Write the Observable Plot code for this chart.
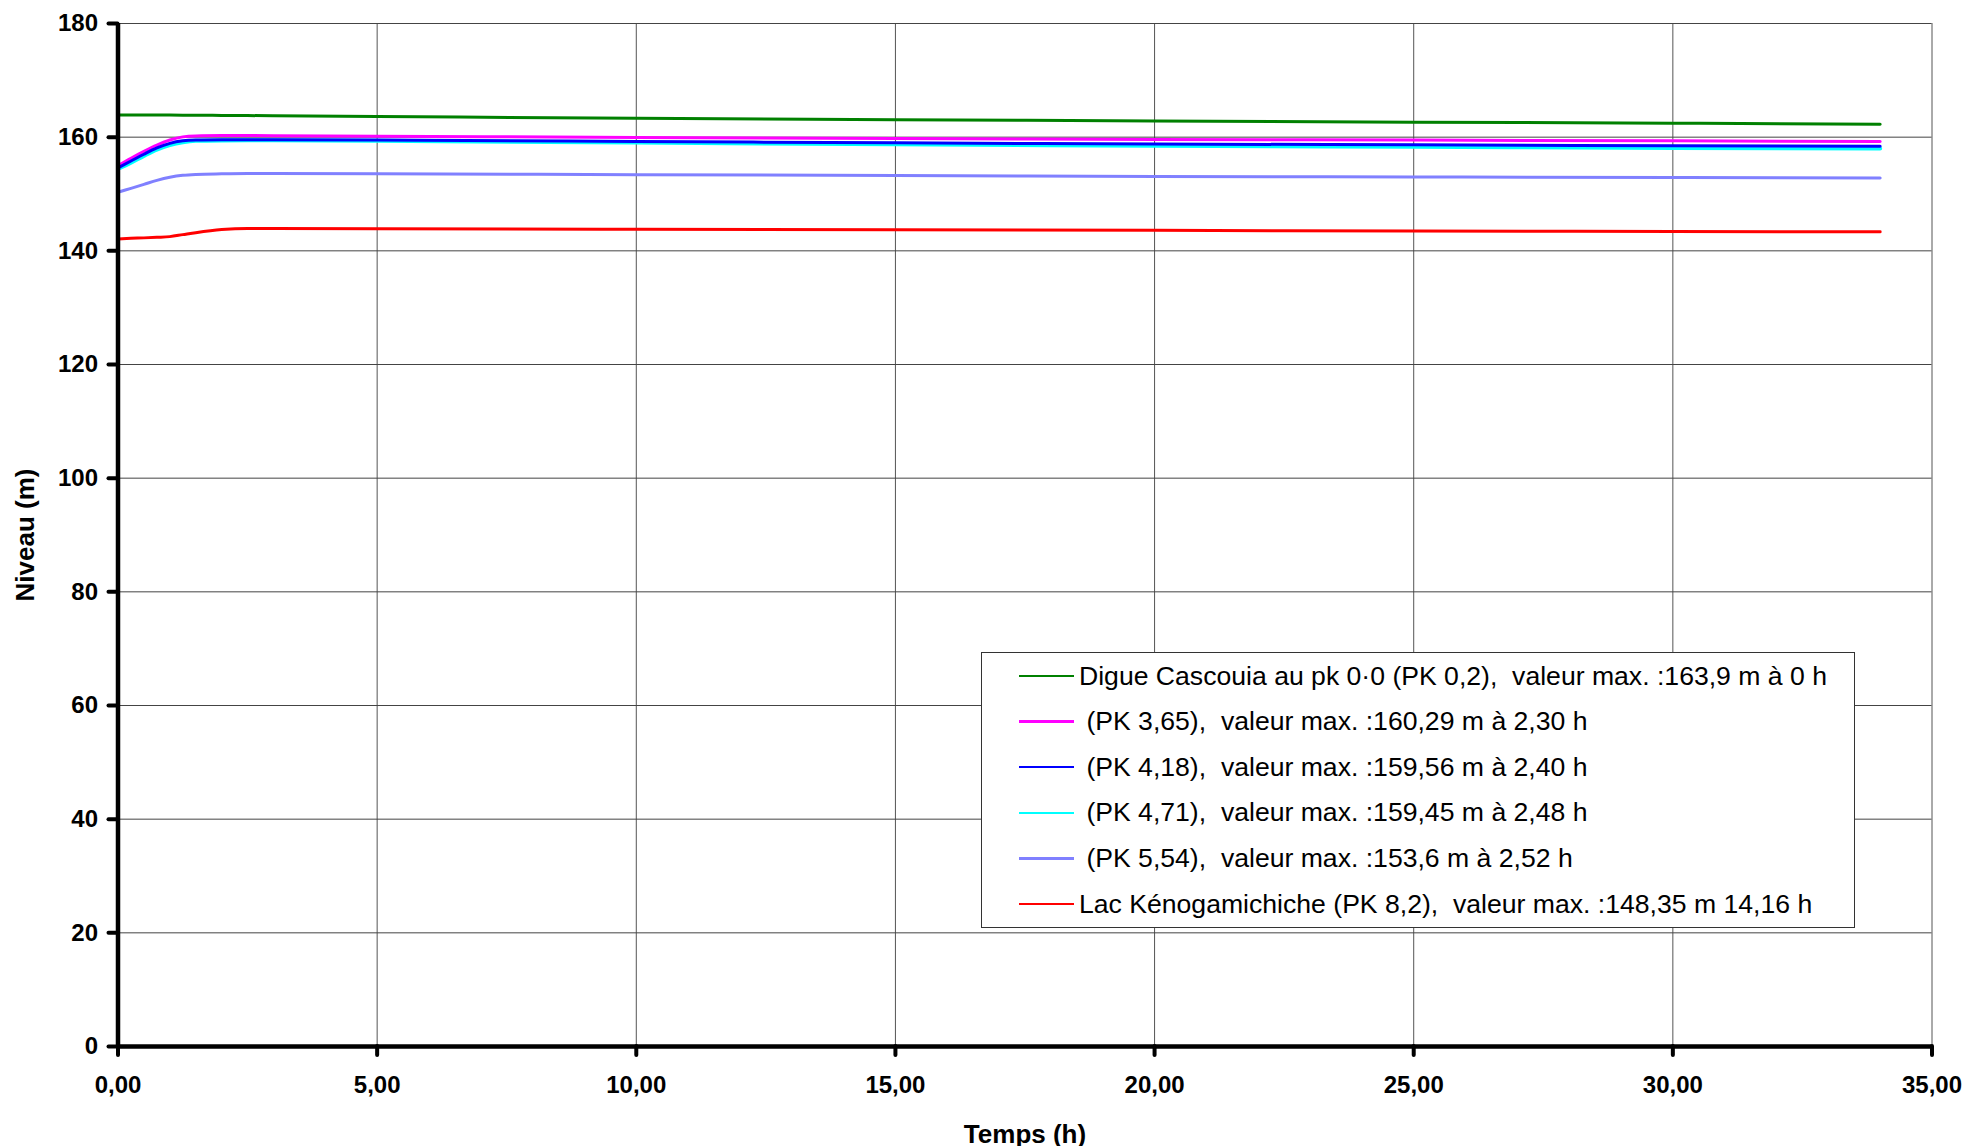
<!DOCTYPE html>
<html>
<head>
<meta charset="utf-8">
<script src="https://cdn.jsdelivr.net/npm/d3@7"></script>
<script src="https://cdn.jsdelivr.net/npm/@observablehq/plot@0.6"></script>
<style>
  html, body { margin: 0; padding: 0; background: #fff; overflow: hidden; }
  #wrap { position: relative; width: 1969px; height: 1146px; font-family: "Liberation Sans", Arial, sans-serif; }
  #legend { position: absolute; left: 981px; top: 652px; width: 872px; height: 274px; border: 1.5px solid #333; background: #fff; }
  .row { position: absolute; left: 0; height: 46px; display: flex; align-items: center; white-space: pre; font-size: 26.6px; color: #000; }
  .sw { width: 55px; height: 2.5px; margin-left: 37px; margin-right: 5px; }
</style>
</head>
<body>
<div id="wrap"></div>
<script>
// ---- data ----
const times = [0, 0.25, 0.5, 0.75, 1, 1.25, 1.5, 2, 2.5, 3, 5, 10, 15, 20, 25, 30, 34];

const seriesNames = [
  "Digue Cascouia au pk 0·0 (PK 0,2),  valeur max. :163,9 m à 0 h",
  " (PK 3,65),  valeur max. :160,29 m à 2,30 h",
  " (PK 4,18),  valeur max. :159,56 m à 2,40 h",
  " (PK 4,71),  valeur max. :159,45 m à 2,48 h",
  " (PK 5,54),  valeur max. :153,6 m à 2,52 h",
  "Lac Kénogamichiche (PK 8,2),  valeur max. :148,35 m 14,16 h"
];
const seriesColors = ["#008000", "#FF00FF", "#0000FF", "#00FFFF", "#8080FF", "#FF0000"];

const pk02  = [163.92, 163.91, 163.90, 163.89, 163.88, 163.87, 163.86, 163.83, 163.80, 163.77, 163.64, 163.32, 163.08, 162.85, 162.64, 162.46, 162.29];
const pk365 = [155.0, 156.3, 157.5, 158.6, 159.5, 160.05, 160.22, 160.28, 160.29, 160.27, 160.18, 159.95, 159.75, 159.6, 159.48, 159.35, 159.25];
const pk418 = [154.6, 155.8, 157.0, 158.1, 158.9, 159.35, 159.5, 159.55, 159.56, 159.55, 159.48, 159.25, 159.0, 158.8, 158.65, 158.5, 158.4];
const pk471 = [154.4, 155.5, 156.7, 157.8, 158.6, 159.1, 159.35, 159.43, 159.45, 159.44, 159.35, 159.05, 158.75, 158.5, 158.3, 158.1, 158.0];
const pk554 = [150.3, 151.0, 151.7, 152.4, 152.95, 153.3, 153.45, 153.55, 153.6, 153.6, 153.55, 153.4, 153.25, 153.1, 153.0, 152.9, 152.8];
const pk82  = [142.1, 142.2, 142.28, 142.38, 142.5, 142.85, 143.2, 143.75, 143.95, 143.95, 143.9, 143.8, 143.7, 143.6, 143.5, 143.4, 143.35];

const seriesValues = [pk02, pk365, pk418, pk471, pk554, pk82];

const xTicks = [0, 5, 10, 15, 20, 25, 30, 35];
const yTicks = [0, 20, 40, 60, 80, 100, 120, 140, 160, 180];
const xTitle = "Temps (h)";
const yTitle = "Niveau (m)";

// ---- build table ----
const rows = [];
seriesValues.forEach((vals, i) => {
  vals.forEach((v, j) => rows.push({t: times[j], v, s: i}));
});
// draw order: cyan before blue so blue sits on top
const drawOrder = [0, 1, 3, 2, 4, 5];

const fmtX = d => d.toFixed(2).replace(".", ",");

const chart = Plot.plot({
  width: 1969,
  height: 1146,
  marginLeft: 117.5,
  marginRight: 37.5,
  marginTop: 23,
  marginBottom: 100,
  style: {fontFamily: "'Liberation Sans', Arial, sans-serif", background: "#fff", color: "#000", overflow: "visible"},
  x: {domain: [0, 35]},
  y: {domain: [0, 180]},
  marks: [
    Plot.gridX(xTicks.filter(d => d > 0), {stroke: "#555", strokeOpacity: 1, strokeWidth: 1}),
    Plot.gridY(yTicks.filter(d => d > 0), {stroke: "#444", strokeOpacity: 1, strokeWidth: 1}),
    ...drawOrder.map(i => Plot.line(rows.filter(r => r.s === i), {
      x: "t", y: "v", stroke: seriesColors[i], strokeWidth: i === 3 ? 4 : 3, curve: "monotone-x"
    })),
    Plot.axisY(yTicks, {tickSize: 9, tickPadding: 11, strokeWidth: 4, strokeLinecap: "round", fontSize: 24, fontWeight: "bold", label: null}),
    Plot.axisX(xTicks, {tickSize: 9, tickPadding: 20, strokeWidth: 4, strokeLinecap: "round", fontSize: 24, fontWeight: "bold", tickFormat: fmtX, label: null}),
    Plot.ruleX([0], {strokeWidth: 4.5}),
    Plot.ruleY([0], {strokeWidth: 4.5}),
    Plot.text([xTitle], {frameAnchor: "bottom", dy: 96, fontSize: 26, fontWeight: "bold"}),
    Plot.text([yTitle], {frameAnchor: "left", textAnchor: "middle", dx: -92, rotate: -90, fontSize: 26, fontWeight: "bold"})
  ]
});

const wrap = document.getElementById("wrap");
wrap.appendChild(chart);

// legend overlay
const leg = document.createElement("div");
leg.id = "legend";
seriesNames.forEach((name, i) => {
  const r = document.createElement("div");
  r.className = "row";
  r.style.top = (0 + i * 45.6) + "px";
  const sw = document.createElement("div");
  sw.className = "sw";
  sw.style.background = seriesColors[i];
  const tx = document.createElement("span");
  tx.textContent = name;
  r.appendChild(sw);
  r.appendChild(tx);
  leg.appendChild(r);
});
wrap.appendChild(leg);
</script>
</body>
</html>
